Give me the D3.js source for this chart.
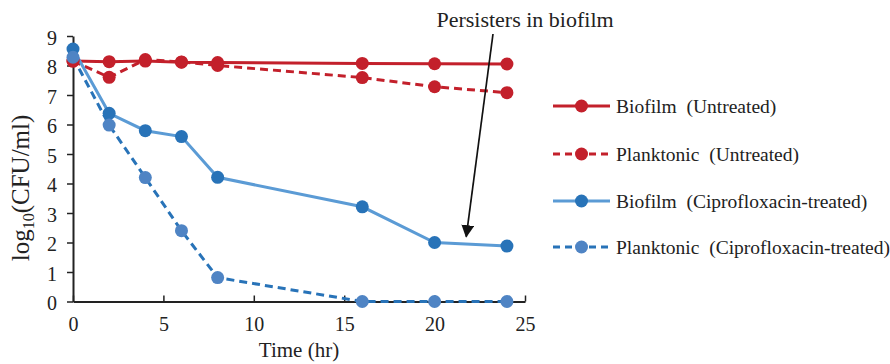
<!DOCTYPE html>
<html>
<head>
<meta charset="utf-8">
<script src="https://cdn.jsdelivr.net/npm/d3@7"></script>
<style>
  html, body { margin: 0; padding: 0; background: #fff; }
  svg text { font-family: "Liberation Serif", "Times New Roman", serif; fill: #222; }
</style>
</head>
<body>
<svg id="chart" width="890" height="364"></svg>
<script>
// Sampling times (hours)
const times = [0, 2, 4, 6, 8, 16, 20, 24];

// log10(CFU/ml) per series
const biofilmUntreated    = [8.15, 8.13, 8.15, 8.11, 8.10, 8.07, 8.06, 8.05];
const planktonicUntreated = [8.15, 7.60, 8.20, 8.12, 8.00, 7.59, 7.28, 7.08];
const biofilmCipro        = [8.56, 6.38, 5.79, 5.59, 4.21, 3.21, 2.00, 1.88];
const planktonicCipro     = [8.28, 5.98, 4.20, 2.40, 0.81, 0.00, 0.00, 0.00];

const seriesNames = [
  "Biofilm  (Untreated)",
  "Planktonic  (Untreated)",
  "Biofilm  (Ciprofloxacin-treated)",
  "Planktonic  (Ciprofloxacin-treated)"
];

const xTicks = [0, 5, 10, 15, 20, 25];
const yTicks = [0, 1, 2, 3, 4, 5, 6, 7, 8, 9];

const annotationText = "Persisters in biofilm";
const annotationTarget = { t: 21.75, v: 2.2 };

const series = [
  { name: seriesNames[0], values: biofilmUntreated,    line: "#c3202b", marker: "#c3202b", dash: null },
  { name: seriesNames[1], values: planktonicUntreated, line: "#c3202b", marker: "#c3202b", dash: "8,5" },
  { name: seriesNames[2], values: biofilmCipro,        line: "#5b9bd5", marker: "#2873b8", dash: null },
  { name: seriesNames[3], values: planktonicCipro,     line: "#2873b8", marker: "#4f84c4", dash: "8,5" }
];

const svg = d3.select("#chart");
const x = d3.scaleLinear().domain([0, 25]).range([73, 525]);
const y = d3.scaleLinear().domain([0, 9]).range([301.5, 36]);

const serif = "'Liberation Serif', 'Times New Roman', serif";

// Axes
const xAxis = svg.append("g")
  .attr("transform", `translate(0,${y(0)})`)
  .call(d3.axisBottom(x).tickValues(xTicks).tickSizeInner(-6).tickSizeOuter(0).tickPadding(15));
const yAxis = svg.append("g")
  .attr("transform", `translate(${x(0)},0)`)
  .call(d3.axisLeft(y).tickValues(yTicks).tickSizeInner(6).tickSizeOuter(0).tickPadding(10));

[xAxis, yAxis].forEach(g => {
  g.select(".domain").attr("stroke", "#222").attr("stroke-width", 2);
  g.selectAll(".tick line").attr("stroke", "#222").attr("stroke-width", 1.5);
  g.selectAll(".tick text").attr("font-size", 20).attr("fill", "#222")
    .style("font-family", serif);
});
xAxis.selectAll(".tick text").attr("dy", "0.71em");
yAxis.selectAll(".tick text").attr("dy", "0.4em");

// Axis titles
svg.append("text")
  .attr("x", x(12.5)).attr("y", 357)
  .attr("text-anchor", "middle").attr("font-size", 21)
  .text("Time (hr)");

const yTitle = svg.append("text")
  .attr("transform", `translate(29,188) rotate(-90)`)
  .attr("text-anchor", "middle").attr("font-size", 25);
yTitle.append("tspan").text("log");
yTitle.append("tspan").attr("font-size", 16).attr("dy", 5).text("10");
yTitle.append("tspan").attr("dy", -5).text("(CFU/ml)");

// Series lines and markers
const line = d3.line().x((d, i) => x(times[i])).y(d => y(d));
const plot = svg.append("g");
series.forEach(s => {
  plot.append("path")
    .datum(s.values)
    .attr("d", line)
    .attr("fill", "none")
    .attr("stroke", s.line)
    .attr("stroke-width", 3)
    .attr("stroke-dasharray", s.dash);
});
series.forEach(s => {
  plot.selectAll(null)
    .data(s.values)
    .join("circle")
    .attr("cx", (d, i) => x(times[i]))
    .attr("cy", d => y(d))
    .attr("r", 6.5)
    .attr("fill", s.marker);
});

// Annotation arrow
const defs = svg.append("defs");
defs.append("marker")
  .attr("id", "arrowhead")
  .attr("viewBox", "0 0 10 10")
  .attr("refX", 9).attr("refY", 5)
  .attr("markerWidth", 7.5).attr("markerHeight", 7.5)
  .attr("markerUnits", "strokeWidth")
  .attr("orient", "auto")
  .append("path").attr("d", "M0,0 L10,5 L0,10 Z").attr("fill", "#111");

svg.append("text")
  .attr("x", 525).attr("y", 27)
  .attr("text-anchor", "middle").attr("font-size", 22)
  .text(annotationText);

svg.append("line")
  .attr("x1", 493).attr("y1", 34)
  .attr("x2", x(annotationTarget.t)).attr("y2", y(annotationTarget.v))
  .attr("stroke", "#111").attr("stroke-width", 1.7)
  .attr("marker-end", "url(#arrowhead)");

// Legend
const legendY = [106, 154, 201, 247];
const legend = svg.append("g");
series.forEach((s, i) => {
  const g = legend.append("g").attr("transform", `translate(0,${legendY[i]})`);
  g.append("line")
    .attr("x1", 553).attr("x2", 610).attr("y1", 0).attr("y2", 0)
    .attr("stroke", s.line).attr("stroke-width", 3)
    .attr("stroke-dasharray", s.dash ? "7,5" : null);
  g.append("circle").attr("cx", 581.5).attr("cy", 0).attr("r", 6.5).attr("fill", s.marker);
  g.append("text")
    .attr("x", 616).attr("y", 0).attr("dy", "0.35em")
    .attr("font-size", 19.5)
    .style("white-space", "pre")
    .attr("xml:space", "preserve")
    .text(s.name);
});
</script>
</body>
</html>
